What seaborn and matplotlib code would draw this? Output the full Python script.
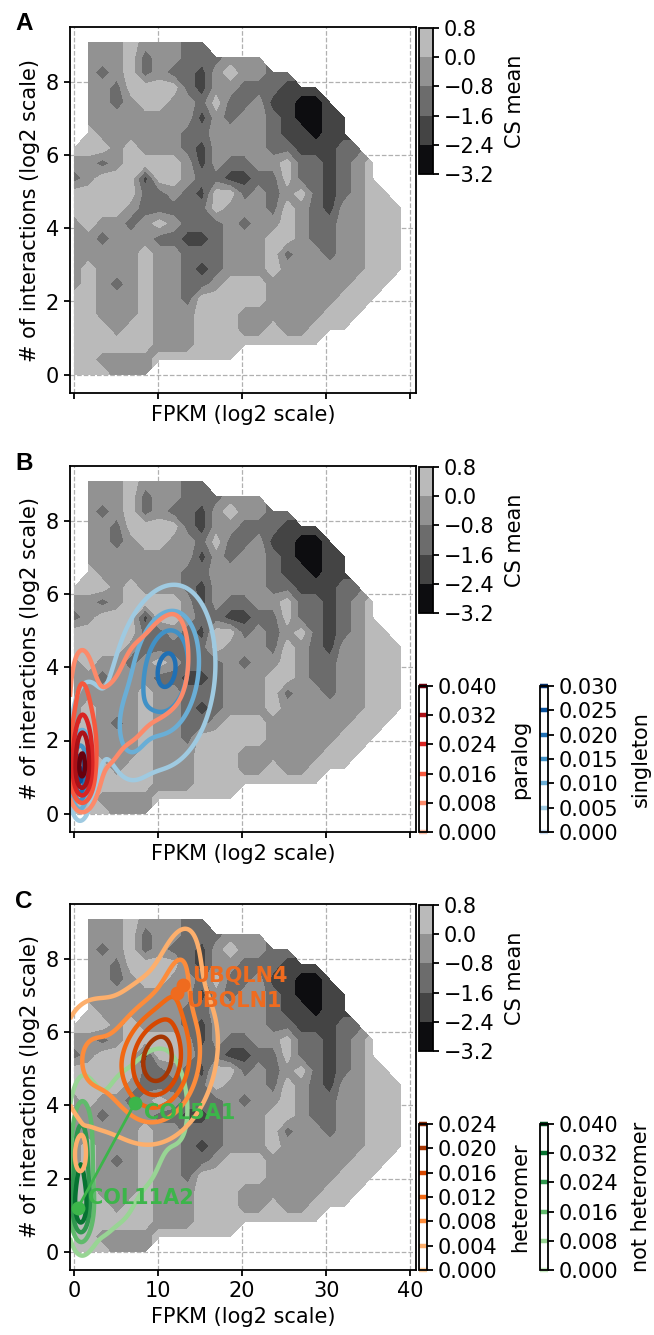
import numpy as np
import matplotlib
matplotlib.use("Agg")
import matplotlib.pyplot as plt
from matplotlib.colors import ListedColormap
from matplotlib.ticker import FormatStrFormatter
import seaborn as sns

# ---- CS mean map ----
# one string per interaction bin (top row = highest bin), one char per FPKM bin
# '.' = empty bin, digit = CS-mean band (0 lightest ... 4 darkest)
cs_rows = [
    ".111011122",
    ".1110211222111",
    ".121021223101122",
    ".11200002311222333",
    ".112100112022133443",
    ".1111111131211234433",
    ".0111111221111233433",
    "000101112311112233322",
    "1121000013122110223210",
    "2100030012233220223210",
    "00000221230021210232100",
    "000012222201112012311000",
    "101121012221211012211000",
    "112111223321110012211000",
    "111110112221110211211000",
    "101110112321110111111000",
    "10121011221000111111000",
    "0011101120000011111000",
    "001110111000111111000",
    "00010011100011011000",
    "000000111000000000",
    "001111000000",
    "000111",
]
band_value = {"0": 0.4, "1": -0.4, "2": -1.2, "3": -2.0, "4": -2.8}
cs_levels = [-3.2, -2.4, -1.6, -0.8, 0.0, 0.8]
cs_colors = ["#0d0d10", "#444444", "#6c6c6c", "#929292", "#bababa"]
fpkm_bins = np.linspace(0, 38.9, 24)
inter_bins = np.linspace(0, 9.08, 23)

# ---- density peaks of each gene group: (x, y, sx, sy, rho, height) ----
paralog_peaks = [(0.9, 0.85, 1.0, 0.5, 0.0, 0.021), (0.9, 1.65, 1.05, 0.65, 0.0, 0.023),
                 (0.9, 2.7, 1.1, 1.1, 0.0, 0.015), (0.8, 4.0, 1.1, 0.8, 0.0, 0.004),
                 (3.8, 2.3, 1.6, 1.4, 0.0, 0.009), (7.0, 3.3, 1.6, 1.5, 0.0, 0.009),
                 (10.0, 3.9, 1.6, 1.4, 0.0, 0.009), (12.5, 4.3, 1.5, 1.2, 0.0, 0.0095)]
singleton_peaks = [(0.6, 1.0, 0.7, 0.6, 0.0, 0.020), (1.2, 1.9, 1.5, 1.3, 0.0, 0.007),
                   (6.5, 2.2, 1.5, 0.8, 0.0, 0.006), (11.1, 4.0, 2.5, 1.1, 0.2, 0.0135),
                   (10.5, 3.5, 5.5, 2.1, 0.1, 0.008)]
heteromer_peaks = [(9.9, 5.2, 2.9, 1.0, 0.1, 0.0165), (10.0, 5.4, 6.5, 2.0, 0.25, 0.006),
                   (12.4, 7.6, 1.7, 1.0, 0.4, 0.0055), (1.5, 5.3, 2.6, 1.2, 0.0, 0.0058),
                   (0.7, 2.55, 0.6, 0.4, 0.0, 0.0042)]
nonheteromer_peaks = [(0.7, 2.4, 1.0, 1.25, 0.0, 0.026), (0.7, 1.1, 0.9, 0.6, 0.0, 0.020),
                      (3.0, 1.0, 1.6, 1.1, 0.0, 0.0078), (6.0, 1.65, 1.6, 1.1, 0.0, 0.0078),
                      (9.0, 2.65, 1.6, 1.1, 0.0, 0.0075), (12.7, 3.7, 1.5, 1.1, 0.0, 0.0075),
                      (2.0, 3.75, 1.6, 1.1, 0.0, 0.0078), (5.5, 4.1, 1.6, 1.1, 0.0, 0.0078),
                      (8.5, 4.5, 1.6, 1.1, 0.0, 0.0075), (11.0, 4.8, 1.6, 1.1, 0.0, 0.0066)]

paralog_levels = [0.0, 0.008, 0.016, 0.024, 0.032, 0.040]
singleton_levels = [0.0, 0.005, 0.010, 0.015, 0.020, 0.025, 0.030]
heteromer_levels = [0.0, 0.004, 0.008, 0.012, 0.016, 0.020, 0.024]
nonheteromer_levels = [0.0, 0.008, 0.016, 0.024, 0.032, 0.040]

# highlighted genes in panel C
het_genes = ["UBQLN4", "UBQLN1"]
het_x = [13.0, 12.3]
het_y = [7.3, 7.06]
nonhet_genes = ["COL5A1", "COL11A2"]
nonhet_x = [7.2, 0.45]
nonhet_y = [4.05, 1.2]

ORANGE = "#ef6b1f"
GREEN = "#3cb54a"

sns.set_style("ticks")
plt.rcParams.update({
    "font.family": ["DejaVu Sans"],
    "font.size": 15,
    "axes.labelsize": 15,
    "xtick.labelsize": 15,
    "ytick.labelsize": 15,
    "axes.linewidth": 1.3,
    "axes.edgecolor": "black",
    "xtick.color": "black",
    "ytick.color": "black",
    "text.color": "black",
    "axes.labelcolor": "black",
    "xtick.major.size": 4.5,
    "ytick.major.size": 4.5,
    "xtick.major.width": 1.3,
    "ytick.major.width": 1.3,
})

W, H = 654, 1335
fig = plt.figure(figsize=(W / 100, H / 100), dpi=100)


def box(l, t, r, b):
    return [l / W, 1 - b / H, (r - l) / W, (b - t) / H]


cs_grid = np.array([[band_value.get(c, np.nan) for c in r.ljust(24, ".")] for r in cs_rows[::-1]])
cs_grid = np.ma.masked_invalid(cs_grid)

gx, gy = np.meshgrid(np.linspace(-0.5, 40.7, 330), np.linspace(-0.5, 9.5, 220))


def density(peaks):
    z = np.zeros_like(gx)
    for cx, cy, sx, sy, rho, h in peaks:
        u = (gx - cx) / sx
        v = (gy - cy) / sy
        z += h * np.exp(-0.5 * (u * u - 2 * rho * u * v + v * v) / (1 - rho * rho))
    return z


def kde_lines(ax, cax, peaks, levels, cmap_name, label):
    base = sns.color_palette(cmap_name, as_cmap=True)
    cmap = ListedColormap(base(np.linspace(0.25, 1.0, 256)))
    cs = ax.contour(gx, gy, density(peaks), levels=levels, cmap=cmap, linewidths=3.2)
    cb = fig.colorbar(cs, cax=cax)
    cb.set_ticks(levels)
    cb.ax.yaxis.set_major_formatter(FormatStrFormatter("%.3f"))
    cb.outline.set_linewidth(1.3)
    cb.set_label(label, labelpad=9)
    return cs


tops = [27, 466, 904]
letters = ["A", "B", "C"]
axes = []
for i, top in enumerate(tops):
    ax = fig.add_axes(box(70, top, 416, top + 366))
    cf = ax.contourf(fpkm_bins, inter_bins, cs_grid, levels=cs_levels, colors=cs_colors)
    ax.set_xlim(-0.5, 40.7)
    ax.set_ylim(-0.5, 9.5)
    ax.set_xticks([0, 10, 20, 30, 40])
    ax.set_yticks([0, 2, 4, 6, 8])
    ax.set_axisbelow(True)
    ax.grid(True, linestyle="--", color="#b0b0b0", linewidth=0.9)
    ax.set_xlabel("FPKM (log2 scale)")
    ax.set_ylabel("# of interactions (log2 scale)")
    if i < 2:
        ax.tick_params(labelbottom=False)

    cax = fig.add_axes(box(419, top + 1, 433, top + 147))
    cb = fig.colorbar(cf, cax=cax)
    cb.set_ticks(cs_levels)
    cb.outline.set_linewidth(1.3)
    cb.set_label("CS mean", labelpad=7)

    fig.text(15 / W, 1 - (top - 3) / H, letters[i], fontsize=17.5, fontweight="bold",
             family="Liberation Sans", ha="left", va="center")
    axes.append(ax)

# panel B: singletons underneath, paralogs on top
axB = axes[1]
cax_par = fig.add_axes(box(419, 686, 427, 832))
cax_sin = fig.add_axes(box(540, 686, 548, 832))
kde_lines(axB, cax_sin, singleton_peaks, singleton_levels, "Blues", "singleton")
kde_lines(axB, cax_par, paralog_peaks, paralog_levels, "Reds", "paralog")

# panel C: non-heteromers underneath, heteromers on top
axC = axes[2]
cax_het = fig.add_axes(box(419, 1124, 427, 1270))
cax_non = fig.add_axes(box(540, 1124, 548, 1270))
kde_lines(axC, cax_non, nonheteromer_peaks, nonheteromer_levels, "Greens", "not heteromer")
kde_lines(axC, cax_het, heteromer_peaks, heteromer_levels, "Oranges", "heteromer")

axC.plot(het_x, het_y, "-o", color=ORANGE, ms=9, lw=2, zorder=5)
axC.plot(nonhet_x, nonhet_y, "-o", color=GREEN, ms=9, lw=2, zorder=5)
for name, x, y, dy in zip(het_genes, het_x, het_y, [5.8, -5.8]):
    axC.annotate(name, (x, y), xytext=(6.5, dy), textcoords="offset points",
                 color=ORANGE, fontsize=15, fontweight="bold", va="center", zorder=6)
for name, x, y, dy in zip(nonhet_genes, nonhet_x, nonhet_y, [-7.2, 7.2]):
    axC.annotate(name, (x, y), xytext=(7, dy), textcoords="offset points",
                 color=GREEN, fontsize=15, fontweight="bold", va="center", zorder=6)

fig.savefig("out.png", dpi=100, facecolor="white")
